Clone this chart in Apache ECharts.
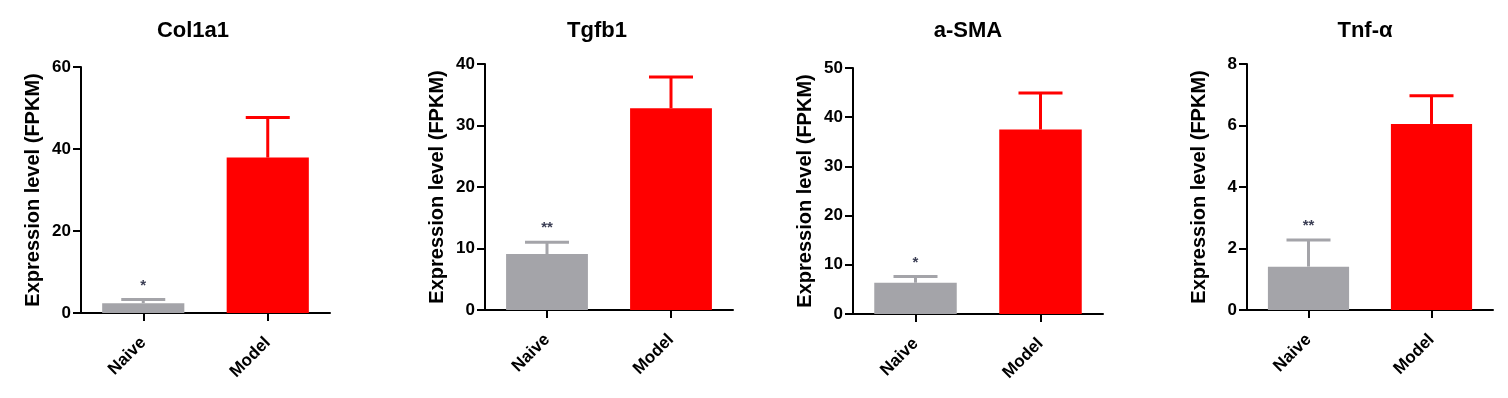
<!DOCTYPE html>
<html>
<head>
<meta charset="utf-8">
<script src="https://cdn.jsdelivr.net/npm/echarts@6/dist/echarts.min.js"></script>
<style>
html,body{margin:0;padding:0;background:#fff;}
#chart{width:1508px;height:398px;}
</style>
</head>
<body>
<div id="chart"></div>
<script>
// ---- data ----
const categories = ['Naive', 'Model'];
const genes = ['Col1a1', 'Tgfb1', 'a-SMA', 'Tnf-α'];
const col1a1Mean = [2.4, 37.9];
const col1a1SD   = [0.9, 9.8];
const tgfb1Mean  = [9.1, 32.8];
const tgfb1SD    = [1.9, 5.1];
const asmaMean   = [6.35, 37.5];
const asmaSD     = [1.25, 7.4];
const tnfaMean   = [1.41, 6.05];
const tnfaSD     = [0.87, 0.92];
const yMax       = [60, 40, 50, 8];
const yInterval  = [20, 10, 10, 2];
const naiveStars = ['*', '**', '*', '**'];

const means = [col1a1Mean, tgfb1Mean, asmaMean, tnfaMean];
const sds = [col1a1SD, tgfb1SD, asmaSD, tnfaSD];

// ---- layout / style ----
const barColors = ['#a4a4a9', '#ff0000'];
const grids = [
  {left: 81, top: 67, width: 249, height: 246},
  {left: 485, top: 64, width: 248, height: 246},
  {left: 853, top: 68, width: 250, height: 246},
  {left: 1247, top: 64, width: 246, height: 246}
];
const titleCenters = [188, 592, 963, 1360];
const FONT = 'Liberation Sans, Arial, sans-serif';

const option = {
  animation: false,
  backgroundColor: '#fff',
  title: [],
  grid: [],
  xAxis: [],
  yAxis: [],
  series: []
};

grids.forEach((g, i) => {
  option.grid.push({left: g.left, top: g.top, width: g.width, height: g.height, containLabel: false});
  option.title.push({
    text: genes[i],
    left: titleCenters[i],
    top: 15,
    textAlign: 'center',
    textStyle: {fontFamily: FONT, fontWeight: 'bold', fontSize: 22, color: '#000'}
  });
  option.xAxis.push({
    type: 'category',
    gridIndex: i,
    data: categories,
    axisLine: {lineStyle: {color: '#000', width: 2}},
    axisTick: {show: true, alignWithLabel: true, length: 8, lineStyle: {color: '#000', width: 2}},
    axisLabel: {
      rotate: 45, margin: 27, color: '#000',
      fontFamily: FONT, fontWeight: 'bold', fontSize: 17
    },
    splitLine: {show: false}
  });
  option.yAxis.push({
    type: 'value',
    gridIndex: i,
    min: 0, max: yMax[i], interval: yInterval[i],
    name: 'Expression level (FPKM)',
    nameLocation: 'middle',
    nameRotate: 90,
    nameGap: 38,
    nameTextStyle: {fontFamily: FONT, fontWeight: 'bold', fontSize: 20, color: '#000'},
    axisLine: {show: true, lineStyle: {color: '#000', width: 2}},
    axisTick: {show: true, length: 8, lineStyle: {color: '#000', width: 2}},
    axisLabel: {margin: 10, color: '#000', fontFamily: FONT, fontWeight: 'bold', fontSize: 17},
    splitLine: {show: false}
  });
  option.series.push({
    type: 'bar',
    xAxisIndex: i, yAxisIndex: i,
    barWidth: '66%',
    data: means[i].map((v, k) => ({value: v, itemStyle: {color: barColors[k]}})),
    z: 2
  });
  option.series.push({
    type: 'custom',
    xAxisIndex: i, yAxisIndex: i,
    z: 3,
    data: means[i].map((v, k) => [k, v, sds[i][k]]),
    renderItem: function (params, api) {
      const k = api.value(0), m = api.value(1), sd = api.value(2);
      const base = api.coord([k, m]);
      const top = api.coord([k, m + sd]);
      const c = barColors[k];
      const children = [
        {type: 'line', shape: {x1: base[0], y1: base[1], x2: top[0], y2: top[1]}, style: {stroke: c, lineWidth: 3}},
        {type: 'line', shape: {x1: top[0] - 22, y1: top[1], x2: top[0] + 22, y2: top[1]}, style: {stroke: c, lineWidth: 3}}
      ];
      if (k === 0 && naiveStars[i]) {
        children.push({
          type: 'text',
          x: top[0], y: top[1] - 14,
          style: {text: naiveStars[i], fill: '#3c3f55', fontSize: 15, fontFamily: FONT,
                  fontWeight: 'bold', textAlign: 'center', textVerticalAlign: 'middle'}
        });
      }
      return {type: 'group', children: children};
    }
  });
});

const chart = echarts.init(document.getElementById('chart'), null, {renderer: 'canvas'});
chart.setOption(option);
</script>
</body>
</html>
